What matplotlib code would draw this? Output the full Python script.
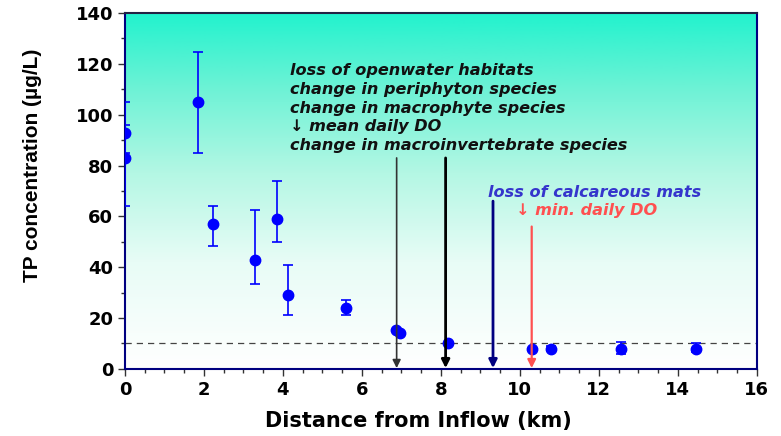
import matplotlib
matplotlib.use("Agg")
import matplotlib.pyplot as plt
import numpy as np
from matplotlib.colors import LinearSegmentedColormap

plt.rcParams['font.family'] = ['DejaVu Sans']

# TP measurements along the flow path
distance_km = [0.0, 0.0, 1.86, 2.22, 3.29, 3.84, 4.13, 5.6, 6.86, 6.96, 8.19, 10.3, 10.8, 12.57, 14.47]
tp_ugL = [93, 83, 105, 57, 43, 59, 29, 24, 15.3, 14, 10, 8, 8, 8, 8]
err_low = [8, 19, 20, 8.5, 9.5, 9, 8, 3, 0, 0, 0, 0, 1, 2, 1.5]
err_high = [12, 13, 19.5, 7, 19.5, 15, 12, 3, 0, 0, 0, 0, 1, 2.5, 2]
threshold = 10

# change points (x, top of arrow)
arrow_x = [6.88, 8.12, 9.32, 10.3]
arrow_top = [83, 83, 66, 56]
arrow_colors = ['#333333', 'black', '#000080', '#FF5050']
arrow_widths = [1.2, 2.0, 2.0, 1.6]

black_notes = ["loss of openwater habitats",
               "change in periphyton species",
               "change in macrophyte species",
               "\u2193 mean daily DO",
               "change in macroinvertebrate species"]

fig = plt.figure(figsize=(7.81, 4.36), dpi=100)
ax = fig.add_axes([0.160, 0.154, 0.809, 0.816])

# background gradient
cmap = LinearSegmentedColormap.from_list(
    'bg', [(0, '#FFFFFF'), (0.3, '#E8FCF6'), (0.55, '#B4F7E4'), (0.8, '#6AF2D5'), (1, '#22F2CE')])
grad = np.linspace(0, 1, 256).reshape(-1, 1)
ax.imshow(grad, cmap=cmap, aspect='auto', origin='lower',
          extent=[0, 1, 0, 1], transform=ax.transAxes, zorder=0)

ax.axhline(threshold, color='#444444', lw=0.9, ls=(0, (5, 4)), zorder=1)

ax.errorbar(distance_km, tp_ugL, yerr=[err_low, err_high], fmt='o', color='#0000FF',
            ecolor='#0000FF', elinewidth=1.2, capsize=3.5, capthick=1.2,
            markersize=7.5, zorder=3)

for x, top, c, w in zip(arrow_x, arrow_top, arrow_colors, arrow_widths):
    ax.annotate('', xy=(x, 0.3), xytext=(x, top),
                arrowprops=dict(arrowstyle='-|>', color=c, lw=w,
                                mutation_scale=12, shrinkA=0, shrinkB=0),
                zorder=4)

line_tops = [62.7, 81.5, 100.5, 119, 137.7]
for txt, ypix in zip(black_notes, line_tops):
    ax.text(4.19, (369 - ypix) / 2.543, txt, fontsize=11.6, fontweight='bold',
            fontstyle='italic', color='#111111', va='top', ha='left', zorder=5)

ax.text(9.19, 72.4, "loss of calcareous mats", fontsize=11.6, fontweight='bold',
        fontstyle='italic', color='#3535CC', va='top', ha='left', zorder=5)
ax.text(9.9, 65.2, "\u2193 min. daily DO", fontsize=11.6, fontweight='bold',
        fontstyle='italic', color='#FF5050', va='top', ha='left', zorder=5)

ax.set_xlim(0, 16)
ax.set_ylim(0, 140)
ax.set_xticks(range(0, 17, 2))
ax.set_yticks(range(0, 141, 20))
ax.set_xticks(np.arange(0, 16.01, 0.5), minor=True)
ax.set_yticks(range(0, 141, 10), minor=True)
ax.tick_params(axis='both', which='major', labelsize=13, length=5, width=1, direction='out', color='#333333')
ax.tick_params(axis='both', which='minor', length=3, width=1, direction='out', color='#333333')
for lab in ax.get_xticklabels() + ax.get_yticklabels():
    lab.set_fontweight('bold')

for side in ['left', 'bottom', 'right', 'top']:
    ax.spines[side].set_color('#000080')
    ax.spines[side].set_linewidth(1.5)
ax.spines['top'].set_color('#222244')

ax.set_xlabel("Distance from Inflow (km)", fontsize=15, fontweight='bold')
ax.xaxis.set_label_coords(0.465, -0.118)
ax.set_ylabel("TP concentration (\u00b5g/L)", fontsize=15, fontweight='bold',
              family=['Liberation Sans', 'DejaVu Sans'])
ax.yaxis.set_label_coords(-0.132, 0.573)

fig.savefig("out.png", dpi=100)
